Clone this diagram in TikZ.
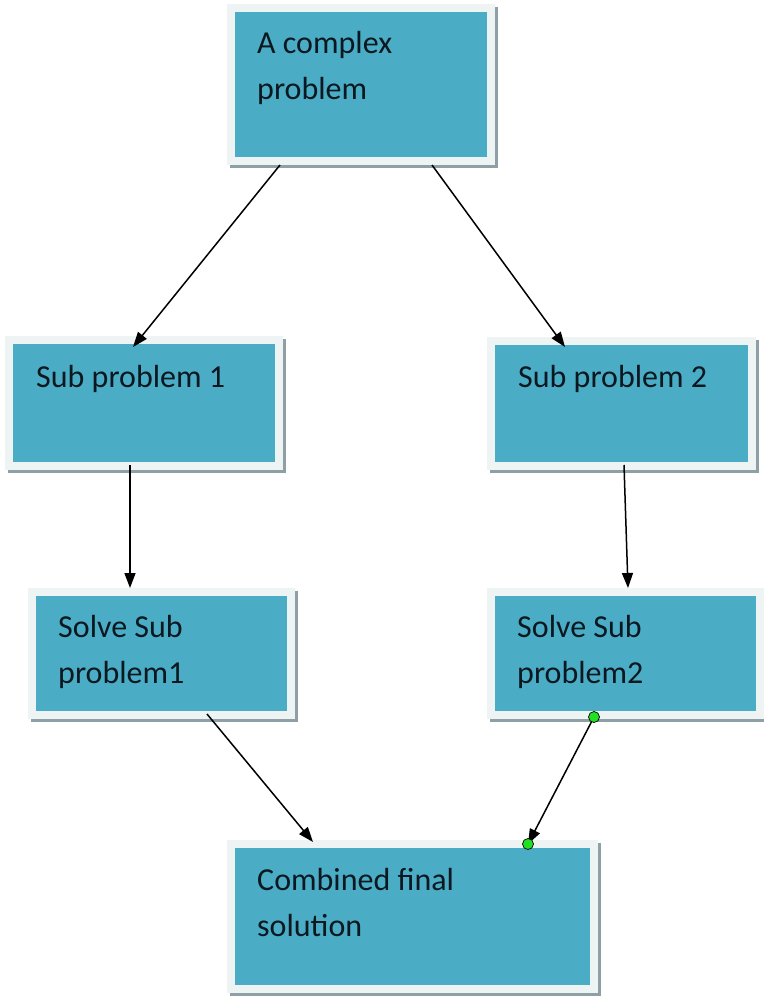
\documentclass[tikz,border=0pt]{standalone}
\usepackage{fontspec}
\setmainfont{Carlito}
\usetikzlibrary{arrows.meta}
\definecolor{boxblue}{HTML}{4BACC6}
\definecolor{framec}{HTML}{EEF3F4}
\definecolor{shadowc}{HTML}{8E9FA6}
\definecolor{txtc}{HTML}{0B1820}
\definecolor{dotgreen}{HTML}{22E022}
\newcommand{\twolines}[1]{\parbox[t]{320pt}{\raggedright #1}}
\tikzset{
  box/.style={rectangle, fill=boxblue, draw=framec, line width=8pt,
    preaction={draw=shadowc, fill=shadowc, line width=8pt,
      transform canvas={shift={(3pt,-3pt)}}}},
  lbl/.style={anchor=base west, inner sep=0pt, text=txtc,
    font=\fontsize{32}{46}\selectfont},
  conn/.style={draw=black, line width=1.5pt,
    -{Triangle[length=15pt,width=11pt]}},
  gdot/.style={circle, fill=dotgreen, draw=black, line width=0.7pt,
    minimum size=11pt, inner sep=0pt}
}
\begin{document}
\begin{tikzpicture}[x=1pt,y=-1pt]
\fill[white] (0,0) rectangle (763,998);
\useasboundingbox (0,0) rectangle (763,998);
% boxes (blue area + frame)
\node[box, minimum width=260pt, minimum height=153pt] (b1) at (361,84.5) {};
\node[box, minimum width=270pt, minimum height=126pt] (b2) at (144,403) {};
\node[box, minimum width=261pt, minimum height=125pt] (b3) at (621.5,403.5) {};
\node[box, minimum width=259pt, minimum height=123pt] (b4) at (161.5,653.5) {};
\node[box, minimum width=269pt, minimum height=123pt] (b5) at (625.5,653.5) {};
\node[box, minimum width=363pt, minimum height=145pt] (b6) at (412.5,916.5) {};
% texts
\node[lbl] (t1) at (257,53) {\twolines{A complex\\problem}};
\node[lbl] (t2) at (36,387) {\twolines{Sub problem 1}};
\node[lbl] (t3) at (518,387) {\twolines{Sub problem 2}};
\node[lbl] (t4) at (58,637) {\twolines{Solve Sub\\problem1}};
\node[lbl] (t5) at (517,637) {\twolines{Solve Sub\\problem2}};
\node[lbl] (t6) at (257,890) {\twolines{Combined final\\solution}};
% connectors
\draw[conn] ([xshift=-81pt]b1.south) -- ([xshift=-11pt,yshift=-11pt]b2.north);
\draw[conn] ([xshift=71pt]b1.south) -- ([xshift=-56.5pt,yshift=-10pt]b3.north);
\draw[conn] ([xshift=-14pt,yshift=5pt]b2.south) -- ([xshift=-31.5pt]b4.north);
\draw[conn] ([xshift=2.5pt,yshift=5pt]b3.south) -- ([xshift=2.5pt]b5.north);
\draw[conn] ([xshift=45.5pt,yshift=5pt]b4.south) -- ([xshift=-99.5pt,yshift=-2pt]b6.north);
\coordinate (c1) at ([xshift=-31.5pt,yshift=2pt]b5.south);
\coordinate (c2) at ([xshift=115.5pt,yshift=-4pt]b6.north);
\draw[conn] (c1) -- (c2);
\node[gdot] (g1) at (c1) {};
\node[gdot] (g2) at (c2) {};
\end{tikzpicture}
\end{document}
